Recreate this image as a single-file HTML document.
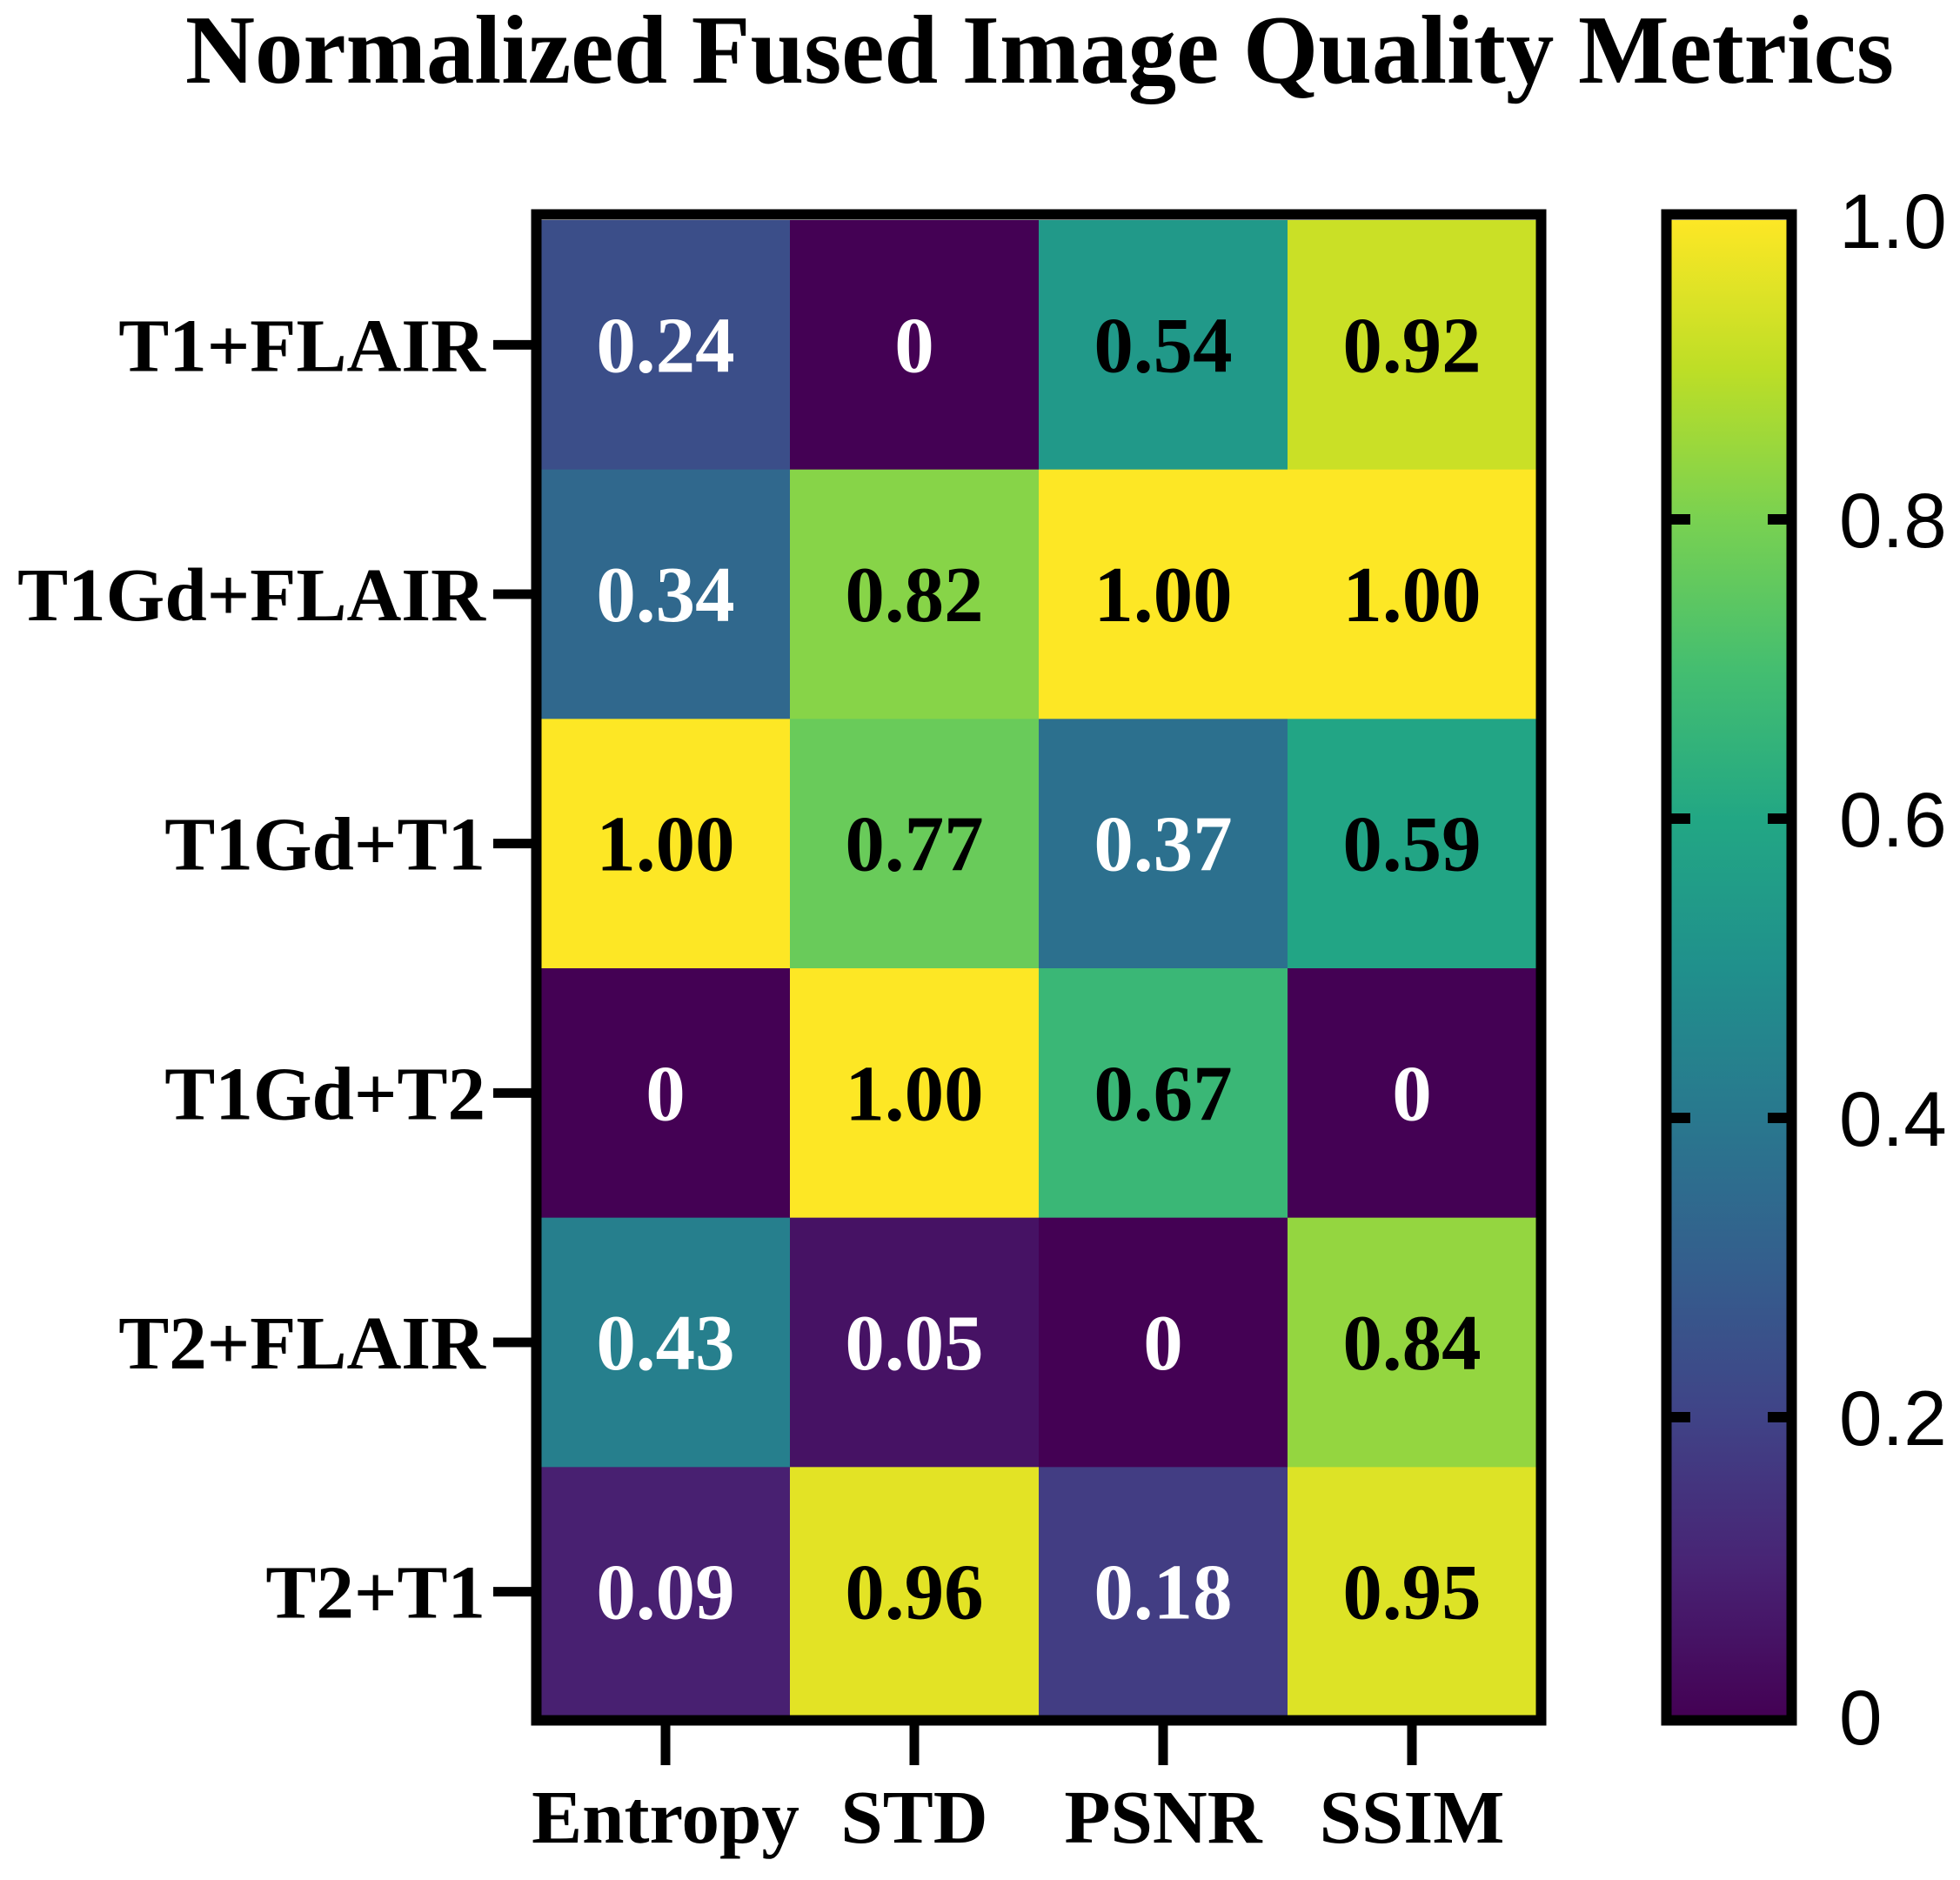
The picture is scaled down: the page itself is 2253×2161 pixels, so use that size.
<!DOCTYPE html>
<html><head><meta charset="utf-8"><style>
html,body{margin:0;padding:0;background:#fff;}
svg{display:block;}
</style></head><body>
<svg id="chart" width="2253" height="2161" viewBox="0 0 2253 2161" xmlns="http://www.w3.org/2000/svg">
<defs><linearGradient id="cbgrad" x1="0" y1="1" x2="0" y2="0"></linearGradient></defs>
<text x="1195" y="95" text-anchor="middle" font-family="Liberation Serif, serif" font-weight="bold" font-size="112" textLength="1964" lengthAdjust="spacingAndGlyphs">Normalized Fused Image Quality Metrics</text>
<g id="cells"></g>
<g id="axes"></g>
</svg>
<script>
const rowLabels = ["T1+FLAIR","T1Gd+FLAIR","T1Gd+T1","T1Gd+T2","T2+FLAIR","T2+T1"];
const colLabels = ["Entropy","STD","PSNR","SSIM"];
const colEntropy = [0.24,0.34,1.00,0,0.43,0.09];
const colSTD = [0,0.82,0.77,1.00,0.05,0.96];
const colPSNR = [0.54,1.00,0.37,0.67,0,0.18];
const colSSIM = [0.92,1.00,0.59,0,0.84,0.95];
const cbTicks = [0,0.2,0.4,0.6,0.8,1.0];
const cbTickLabels = ["0","0.2","0.4","0.6","0.8","1.0"];

const NS="http://www.w3.org/2000/svg";
const svg=document.getElementById('chart');
const cellsG=document.getElementById('cells');
const axesG=document.getElementById('axes');
const cols=[colEntropy,colSTD,colPSNR,colSSIM];
const L=622,R=1766,T=253,B=1973;
const cw=(R-L)/colLabels.length, rh=(B-T)/rowLabels.length;
const xPos=i=>L+i*cw, yPos=j=>T+j*rh;
const vir=[[68,1,84],[72,35,116],[64,67,135],[52,94,141],[41,120,142],[32,144,140],[34,167,132],[68,190,112],[121,209,81],[189,222,38],[253,231,37]];
function viridis(v){v=Math.max(0,Math.min(1,v));const s=v*10,i=Math.min(9,Math.floor(s)),f=s-i;const a=vir[i],b=vir[i+1];return 'rgb('+a.map((c,k)=>Math.round(c+(b[k]-c)*f)).join(',')+')';}
function mk(tag,attrs,parent){const e=document.createElementNS(NS,tag);for(const k in attrs)e.setAttribute(k,attrs[k]);parent.appendChild(e);return e;}

cols.forEach((col,i)=>{col.forEach((v,j)=>{
  const r=mk('rect',{x:xPos(i),y:yPos(j),width:cw+0.6,height:rh+0.6,fill:viridis(v)},cellsG);
  
  
  const t=mk('text',{x:xPos(i)+cw/2,y:yPos(j)+rh/2+31,'text-anchor':'middle','font-family':'Liberation Serif, serif','font-weight':'bold','font-size':91,fill:v<0.5?'#fff':'#000'},cellsG);
  t.textContent=v===0?'0':v.toFixed(2);
  
  
});});

const frame=mk('rect',{x:L-5.5,y:T-6.5,width:R-L+11,height:B-T+11,fill:'none',stroke:'#000','stroke-width':12},axesG);



rowLabels.forEach((lab,j)=>{
  const cy=yPos(j)+rh/2;
  const tk=mk('line',{x1:567,x2:612,y1:cy,y2:cy,stroke:'#000','stroke-width':11},axesG);
  
  
  const t=mk('text',{x:558,y:cy+30,'text-anchor':'end','font-family':'Liberation Serif, serif','font-weight':'bold','font-size':87},axesG);
  t.textContent=lab;
  
  
});
colLabels.forEach((lab,i)=>{
  const cx=xPos(i)+cw/2;
  const tk=mk('line',{x1:cx,x2:cx,y1:1978,y2:2029,stroke:'#000','stroke-width':11},axesG);
  
  
  const t=mk('text',{x:cx,y:2118,'text-anchor':'middle','font-family':'Liberation Serif, serif','font-weight':'bold','font-size':87},axesG);
  t.textContent=lab;
  
  
});

const grad=document.getElementById('cbgrad');
for(let k=0;k<=10;k++){mk('stop',{offset:(k/10),'stop-color':viridis(k/10)},grad);}
const CL=1921,CR=2054;
const cbY=v=>B-v*(B-T);
const cb=mk('rect',{x:CL,y:T,width:CR-CL,height:B-T,fill:'url(#cbgrad)'},axesG);


const cbf=mk('rect',{x:CL-5.5,y:T-6.5,width:CR-CL+11,height:B-T+11,fill:'none',stroke:'#000','stroke-width':12},axesG);


cbTicks.forEach((v,k)=>{
  const y=cbY(v);
  if(v>0&&v<1){
    const a=mk('line',{x1:CL,x2:CL+22,y1:y,y2:y,stroke:'#000','stroke-width':12},axesG);
    
    
    const b=mk('line',{x1:CR-22,x2:CR,y1:y,y2:y,stroke:'#000','stroke-width':12},axesG);
    
    
  }
  const t=mk('text',{x:2114,y:y+32,'font-family':'Liberation Sans, sans-serif','font-size':89},axesG);
  t.textContent=cbTickLabels[k];
  
  
});
</script>
</body></html>
